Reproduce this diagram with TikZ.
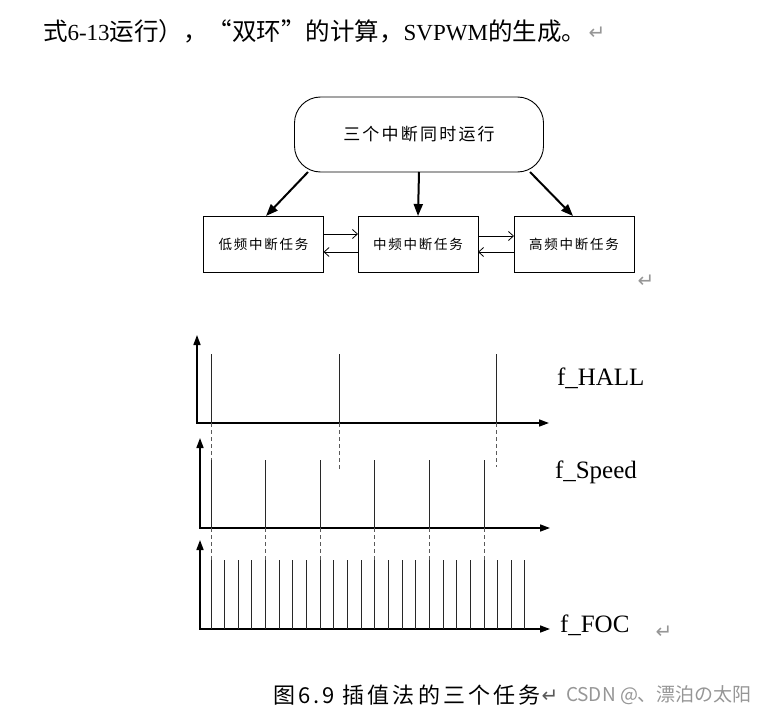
\documentclass[tikz,border=0pt]{standalone}
\usepackage{fontspec}
\setmainfont{Liberation Serif}
\newfontfamily\cjk{Noto Sans CJK SC}
\newfontfamily\cjkwide[LetterSpace=14]{Noto Sans CJK SC}
\newfontfamily\cjkbox[LetterSpace=13]{Noto Sans CJK SC}
\newfontfamily\symfont{DejaVu Sans}
\usetikzlibrary{arrows.meta}
\definecolor{markgray}{RGB}{150,150,150}
\definecolor{pulsegray}{RGB}{40,40,40}
\definecolor{guidegray}{RGB}{90,90,90}
\begin{document}
\begin{tikzpicture}[x=1pt,y=-1pt,
  every node/.style={inner sep=0pt,outer sep=0pt},
  topbox/.style={draw,line width=0.9pt,rounded corners=26pt,minimum width=249pt,minimum height=75pt,
    font=\cjkbox\fontsize{17}{17}\selectfont},
  taskbox/.style={draw,line width=0.9pt,minimum width=120pt,minimum height=56pt,
    font=\cjkbox\fontsize{13.5}{13.5}\selectfont},
  bigarrow/.style={line width=2pt,-{Triangle[length=12pt,width=9pt]}},
  thinarrow/.style={line width=0.8pt,-{Straight Barb[length=5pt,width=9pt]}},
  sigaxes/.style={line width=1.6pt,{Triangle[length=10pt,width=7pt]}-{Triangle[length=10pt,width=7pt]}},
  pulse/.style={line width=1pt,draw=pulsegray},
  guide/.style={line width=0.8pt,draw=guidegray,dash pattern=on 4pt off 3pt},
  retmark/.style={text=markgray,font=\symfont\fontsize{20}{20}\selectfont},
  siglabel/.style={anchor=base west,font=\fontsize{25}{25}\selectfont}
]
\useasboundingbox (0,0) rectangle (770,714);

% intro line
\node[anchor=west,font=\fontsize{23}{23}\selectfont] (intro) at (43,31)
  {{\cjk\fontsize{24.5}{24.5}\selectfont 式}6-13{\cjk\fontsize{24.5}{24.5}\selectfont 运行），“双环”的计算，}SVPWM{\cjk\fontsize{24.5}{24.5}\selectfont 的生成。}};
\node[retmark] (m1) at (597,33) {↵};

% top diagram
\node[topbox] (top) at (419,134.5) {三个中断同时运行};
\node[taskbox] (low) at (263.5,244) {低频中断任务};
\node[taskbox] (mid) at (418,244) {中频中断任务};
\node[taskbox] (high) at (574,244) {高频中断任务};
\node[retmark] (m2) at (646,281) {↵};

\draw[bigarrow] ([xshift=-111pt]top.south) -- ([xshift=2.5pt]low.north);
\draw[bigarrow] (top.south) -- (mid.north);
\draw[bigarrow] ([xshift=111pt]top.south) -- ([xshift=-1pt]high.north);

\draw[thinarrow] ([yshift=10pt]low.east) -- ([yshift=10pt]mid.west);
\draw[thinarrow] ([yshift=-8pt]mid.west) -- ([yshift=-8pt]low.east);
\draw[thinarrow] ([yshift=8pt]mid.east) -- ([yshift=8pt]high.west);
\draw[thinarrow] ([yshift=-8pt]high.west) -- ([yshift=-8pt]mid.east);

% timing plots
\draw[sigaxes] (197,335) -- (197,423) -- (549,423);
\draw[sigaxes] (200,438) -- (200,528) -- (550,528);
\draw[sigaxes] (200,540) -- (200,629) -- (550,629);

% HALL pulses
\foreach \x in {211,339,496} \draw[pulse] (\x,354) -- (\x,423);
\draw[guide] (211,423) -- (211,460);
\draw[guide] (339,423) -- (339,471);
\draw[guide] (496,423) -- (496,467);

% Speed pulses
\foreach \k in {0,...,5} {
  \pgfmathsetmacro{\xx}{211+4*\k*13.65}
  \draw[pulse] (\xx,460) -- (\xx,528);
  \draw[guide] (\xx,528) -- (\xx,560);
}
% FOC pulses
\foreach \k in {0,...,23} {
  \pgfmathsetmacro{\xx}{211+\k*13.65}
  \draw[pulse] (\xx,560) -- (\xx,629);
}

\node[siglabel] (lhall) at (557,385) {f\_HALL};
\node[siglabel] (lspeed) at (555,478) {f\_Speed};
\node[siglabel] (lfoc) at (560,632) {f\_FOC};
\node[retmark] (m3) at (664,632) {↵};

% caption
\node[anchor=west,font=\cjkwide\fontsize{22}{22}\selectfont] (cap) at (273,695) {图6.9 插值法的三个任务};
\node[retmark,text=black!65] (m4) at (550,696) {↵};
\node[anchor=west,text=markgray,font=\cjk\fontsize{19}{19}\selectfont] (wm) at (566,695) {CSDN @、漂泊の太阳};
\end{tikzpicture}
\end{document}
